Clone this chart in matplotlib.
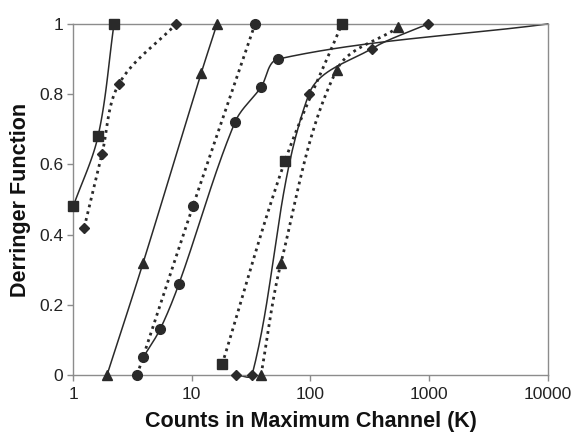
import numpy as np
import matplotlib
matplotlib.use("Agg")
import matplotlib.pyplot as plt
from matplotlib.ticker import FuncFormatter, FixedLocator, NullLocator

plt.rcParams['font.family'] = ['Liberation Sans', 'DejaVu Sans']

# -------------------------------
# data
# -------------------------------
sq_solid_x = [1.0, 1.62, 2.21]
sq_solid_y = [0.48, 0.68, 1.0]

dia_dot_x = [1.24, 1.75, 2.44, 7.37]
dia_dot_y = [0.42, 0.63, 0.83, 1.0]

tri_solid_x = [1.93, 3.89, 12.0, 16.3]
tri_solid_y = [0.0, 0.32, 0.86, 1.0]

cir_dot_x = [3.46, 10.2, 34.1]
cir_dot_y = [0.0, 0.48, 1.0]

cir_solid_x = [3.89, 5.4, 7.8, 23.1, 38.3, 53.3, 10000]
cir_solid_y = [0.05, 0.13, 0.26, 0.72, 0.82, 0.90, 1.0]

sq_dot_x = [18.0, 61.0, 184.0]
sq_dot_y = [0.03, 0.61, 1.0]

dia_solid_x = [23.6, 32.2, 97.0, 330.0, 977.0]
dia_solid_y = [0.0, 0.0, 0.80, 0.93, 1.0]

tri_dot_x = [38.3, 56.5, 167.0, 546.0]
tri_dot_y = [0.0, 0.32, 0.87, 0.99]

x_ticks = [1, 10, 100, 1000, 10000]
y_ticks = [0, 0.2, 0.4, 0.6, 0.8, 1.0]

# approx. pixels per decade / per unit y, so the smoothing works in screen space
SX, SY = 118.75, 351.0


def smooth(xs, ys, n=40):
    # cubic bezier "smoothed line": tangent along neighbour chord,
    # handle length a third of the segment
    P = np.column_stack([np.log10(np.asarray(xs, float)) * SX,
                         np.asarray(ys, float) * SY])
    k = len(P)
    D = []
    for i in range(k):
        d = P[min(i + 1, k - 1)] - P[max(i - 1, 0)]
        D.append(d / np.linalg.norm(d))
    t = np.linspace(0, 1, n)[:, None]
    out = []
    for i in range(k - 1):
        L = np.linalg.norm(P[i + 1] - P[i])
        c1 = P[i] + D[i] * L / 3
        c2 = P[i + 1] - D[i + 1] * L / 3
        out.append((1 - t) ** 3 * P[i] + 3 * (1 - t) ** 2 * t * c1
                   + 3 * (1 - t) * t ** 2 * c2 + t ** 3 * P[i + 1])
    C = np.vstack(out)
    return 10 ** (C[:, 0] / SX), C[:, 1] / SY


fig = plt.figure(figsize=(5.76, 4.36), dpi=100)
ax = fig.add_axes([0.127, 0.14, 0.824, 0.805])

ink = '#2a2a2a'
dot_style = dict(color=ink, lw=2.0, ls=(0, (1.0, 1.5)), dash_capstyle='butt',
                 clip_on=False)
solid_style = dict(color=ink, lw=1.1, clip_on=False)

series = [
    (sq_solid_x, sq_solid_y, 's', 7.0, solid_style),
    (dia_dot_x, dia_dot_y, 'D', 5.2, dot_style),
    (tri_solid_x, tri_solid_y, '^', 7.5, solid_style),
    (cir_dot_x, cir_dot_y, 'o', 7.0, dot_style),
    (cir_solid_x, cir_solid_y, 'o', 7.0, solid_style),
    (sq_dot_x, sq_dot_y, 's', 7.0, dot_style),
    (dia_solid_x, dia_solid_y, 'D', 5.2, solid_style),
    (tri_dot_x, tri_dot_y, '^', 7.5, dot_style),
]

for xs, ys, mk, ms, style in series:
    cx, cy = smooth(xs, ys)
    ax.plot(cx, cy, **style)
    mx, my = xs, ys
    if xs[-1] >= 10000:
        mx, my = xs[:-1], ys[:-1]
    ax.plot(mx, my, ls='none', marker=mk, ms=ms, color=ink, clip_on=False, zorder=3)

ax.set_xscale('log')
ax.set_xlim(1, 10000)
ax.set_ylim(0, 1)

ax.xaxis.set_major_locator(FixedLocator(x_ticks))
ax.xaxis.set_minor_locator(NullLocator())
ax.xaxis.set_major_formatter(FuncFormatter(lambda v, p: '%g' % v))
ax.yaxis.set_major_locator(FixedLocator(y_ticks))
ax.yaxis.set_major_formatter(FuncFormatter(lambda v, p: '%g' % v))

for s in ax.spines.values():
    s.set_color('#8c8c8c')
    s.set_linewidth(1.0)

ax.tick_params(axis='both', colors='#8c8c8c', labelcolor='#222222',
               labelsize=12.5, length=4, width=1.0, direction='out')
ax.tick_params(axis='x', pad=5)
ax.tick_params(axis='y', pad=3)

ax.set_xlabel('Counts in Maximum Channel (K)', fontsize=15.5, fontweight='bold',
              color='#111111', labelpad=6)
ax.set_ylabel('Derringer Function', fontsize=15.5, fontweight='bold',
              color='#111111', labelpad=6)

plt.savefig('out.png', dpi=100)
plt.close()
